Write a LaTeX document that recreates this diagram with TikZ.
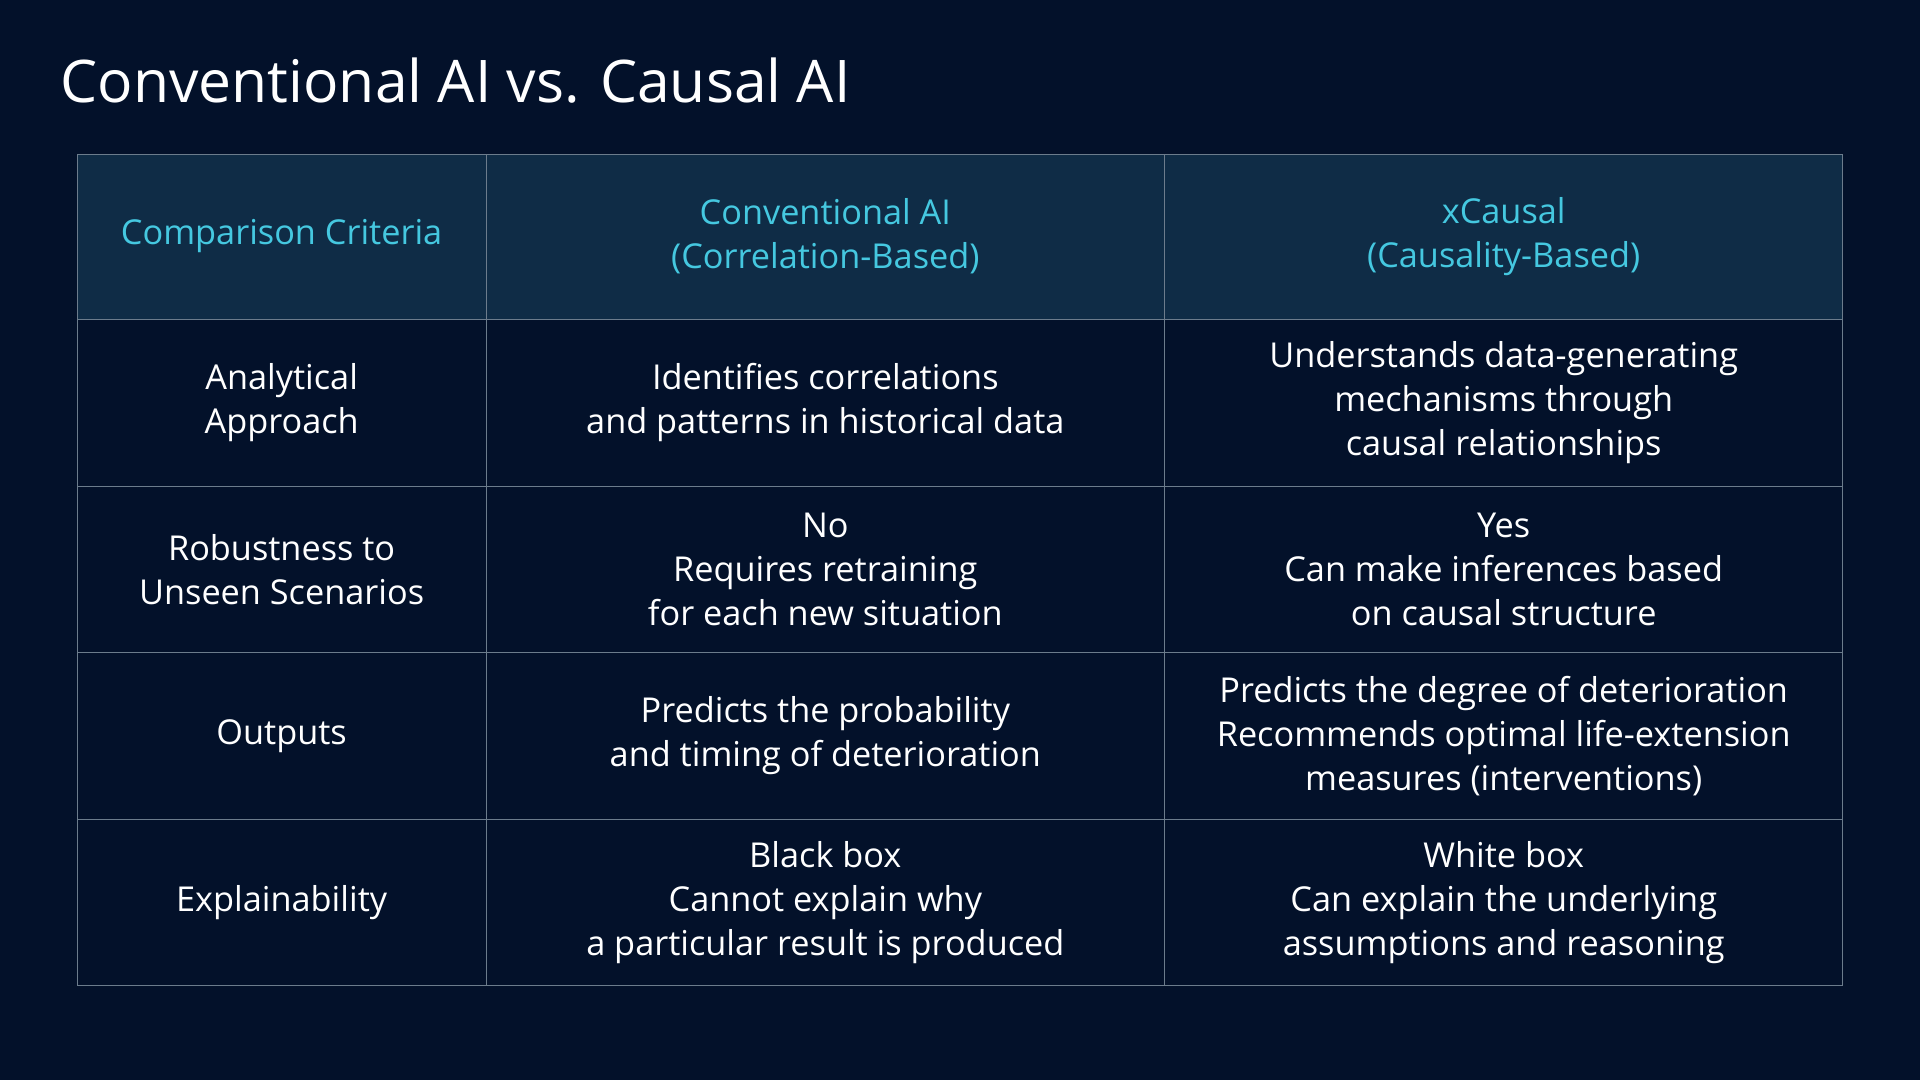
\documentclass[tikz,border=0pt]{standalone}
\usepackage{fontspec}
\setmainfont{Open Sans}
\definecolor{bg}{HTML}{03112A}
\definecolor{hdr}{HTML}{0F2C46}
\definecolor{cy}{HTML}{45C8E0}
\definecolor{ln}{HTML}{6C7C8C}
\begin{document}
\begin{tikzpicture}[x=1pt,y=-1pt,
  cell/.style={align=center,text=white,font=\fontsize{28}{36}\selectfont},
  hcell/.style={cell,text=cy}]
\fill[bg] (0,0) rectangle (1568,882);
\useasboundingbox (0,0) rectangle (1568,882);
\node[anchor=west,text=white,font=\fontsize{48}{56}\selectfont] (title) at (46,66) {Conventional AI vs. Causal AI};
\fill[hdr] (63,126) rectangle (1505,261);
\draw[ln,line width=1pt] (63,126) rectangle (1505,805);
\foreach \y in {261,397,533,669} \draw[ln,line width=1pt] (63,\y) -- (1505,\y);
\foreach \x in {397,951} \draw[ln,line width=1pt] (\x,126) -- (\x,805);
\node[hcell] (h1) at (230,193) {Comparison Criteria};
\node[hcell] (h2) at (674,193) {Conventional AI\\(Correlation-Based)};
\node[hcell] (h3) at (1228,193) {xCausal\\(Causality-Based)};
\node[cell] (a1) at (230,329) {Analytical\\Approach};
\node[cell] (a2) at (674,329) {Identifies correlations\\and patterns in historical data};
\node[cell] (a3) at (1228,329) {Understands data-generating\\mechanisms through\\causal relationships};
\node[cell] (b1) at (230,465) {Robustness to\\Unseen Scenarios};
\node[cell] (b2) at (674,465) {No\\Requires retraining\\for each new situation};
\node[cell] (b3) at (1228,465) {Yes\\Can make inferences based\\on causal structure};
\node[cell] (c1) at (230,601) {Outputs};
\node[cell] (c2) at (674,601) {Predicts the probability\\and timing of deterioration};
\node[cell] (c3) at (1228,601) {Predicts the degree of deterioration\\Recommends optimal life-extension\\measures (interventions)};
\node[cell] (d1) at (230,737) {Explainability};
\node[cell] (d2) at (674,737) {Black box\\Cannot explain why\\a particular result is produced};
\node[cell] (d3) at (1228,737) {White box\\Can explain the underlying\\assumptions and reasoning};
\end{tikzpicture}
\end{document}
